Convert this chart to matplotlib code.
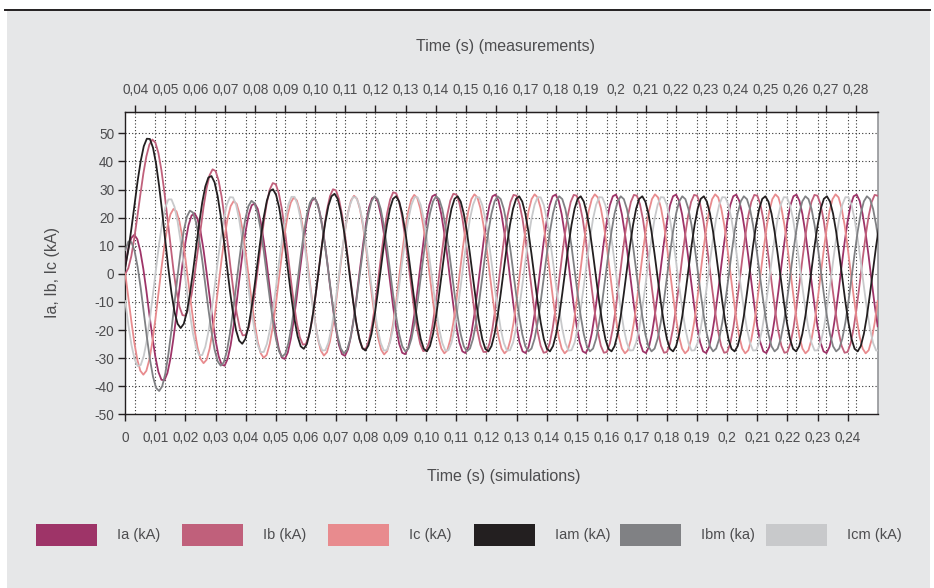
import numpy as np
import matplotlib
matplotlib.use('Agg')
import matplotlib.pyplot as plt
from matplotlib.patches import Rectangle
from matplotlib.lines import Line2D

plt.rcParams['font.family'] = ['Liberation Sans', 'DejaVu Sans']

# sample steps (s) - simulations on bottom time axis, measurements re-sampled
dt_sim = 0.001
dt_meas = 0.0010225

# simulated currents (kA), one value per ms
ia = [2.7, 9.0, 12.8, 13.9, 12.3, 8.0, 1.7, -6.0, -14.5, -22.5,
      -29.6, -34.9, -37.7, -37.9, -35.3, -30.2, -23.0, -14.5, -5.3, 3.5,
      11.3, 17.3, 20.7, 21.6, 19.6, 15.1, 8.5, 0.5, -8.1, -16.4,
      -23.7, -29.3, -32.3, -32.7, -30.3, -25.4, -18.4, -10.1, -1.0, 7.6,
      15.3, 21.1, 24.4, 25.1, 23.1, 18.4, 11.7, 3.6, -5.2, -13.6,
      -21.0, -26.6, -29.8, -30.3, -28.0, -23.1, -16.3, -8.0, 1.0, 9.5,
      17.1, 22.9, 26.1, 26.8, 24.6, 19.9, 13.1, 5.0, -3.9, -12.3,
      -19.8, -25.4, -28.6, -29.2, -26.9, -22.1, -15.3, -7.0, 1.9, 10.4,
      18.0, 23.7, 26.9, 27.5, 25.4, 20.6, 13.8, 5.6, -3.2, -11.7,
      -19.2, -24.9, -28.1, -28.6, -26.4, -21.6, -14.8, -6.6, 2.3, 10.8,
      18.7, 24.4, 27.6, 28.2, 26.0, 21.2, 14.4, 6.2, -2.7, -11.2, -18.7, -24.4, -27.6, -28.2, -26.0, -21.2, -14.4, -6.2, 2.7, 11.2,
      18.7, 24.4, 27.6, 28.2, 26.0, 21.2, 14.4, 6.2, -2.7, -11.2, -18.7, -24.4, -27.6, -28.2, -26.0, -21.2, -14.4, -6.2, 2.7, 11.2,
      18.7, 24.4, 27.6, 28.2, 26.0, 21.2, 14.4, 6.2, -2.7, -11.2, -18.7, -24.4, -27.6, -28.2, -26.0, -21.2, -14.4, -6.2, 2.7, 11.2,
      18.7, 24.4, 27.6, 28.2, 26.0, 21.2, 14.4, 6.2, -2.7, -11.2, -18.7, -24.4, -27.6, -28.2, -26.0, -21.2, -14.4, -6.2, 2.7, 11.2,
      18.7, 24.4, 27.6, 28.2, 26.0, 21.2, 14.4, 6.2, -2.7, -11.2, -18.7, -24.4, -27.6, -28.2, -26.0, -21.2, -14.4, -6.2, 2.7, 11.2,
      18.7, 24.4, 27.6, 28.2, 26.0, 21.2, 14.4, 6.2, -2.7, -11.2, -18.7, -24.4, -27.6, -28.2, -26.0, -21.2, -14.4, -6.2, 2.7, 11.2,
      18.7, 24.4, 27.6, 28.2, 26.0, 21.2, 14.4, 6.2, -2.7, -11.2, -18.7, -24.4, -27.6, -28.2, -26.0, -21.2, -14.4, -6.2, 2.7, 11.2,
      18.7, 24.4, 27.6, 28.2, 26.0, 21.2, 14.4, 6.2, -2.7, -11.2, -18.7]

ib = [0.0, 2.0, 6.3, 12.8, 20.3, 28.2, 35.7, 41.8, 46.0, 47.8,
      46.7, 43.0, 36.9, 29.0, 19.8, 10.3, 1.4, -6.1, -11.7, -14.7,
      -14.9, -12.4, -7.5, -0.6, 7.5, 15.9, 23.8, 30.4, 35.1, 37.2,
      36.6, 33.2, 27.5, 19.9, 11.1, 1.9, -6.6, -13.9, -19.2, -21.9,
      -21.8, -19.1, -13.9, -6.8, 1.6, 10.2, 18.3, 25.2, 30.0, 32.3,
      31.9, 28.7, 23.2, 15.7, 7.1, -2.0, -10.4, -17.5, -22.6, -25.2,
      -25.0, -22.1, -16.8, -9.6, -1.2, 7.6, 15.8, 22.7, 27.6, 30.1,
      29.7, 26.6, 21.1, 13.8, 5.2, -3.7, -12.1, -19.2, -24.2, -26.8,
      -26.5, -23.6, -18.2, -11.0, -2.5, 6.4, 14.6, 21.6, 26.5, 29.0,
      28.7, 25.6, 20.2, 12.9, 4.3, -4.6, -12.9, -19.9, -25.0, -27.5,
      -27.2, -24.2, -18.8, -11.6, -3.1, 5.8, 14.1, 21.1, 26.1, 28.5,
      28.2, 25.2, 19.8, 12.5, 4.0, -5.0, -13.3, -20.3, -25.3, -27.8,
      -27.8, -24.8, -19.4, -12.1, -3.6, 5.3, 13.6, 20.6, 25.6, 28.1, 27.8, 24.8, 19.4, 12.1, 3.6, -5.3, -13.6, -20.6, -25.6, -28.1,
      -27.8, -24.8, -19.4, -12.1, -3.6, 5.3, 13.6, 20.6, 25.6, 28.1, 27.8, 24.8, 19.4, 12.1, 3.6, -5.3, -13.6, -20.6, -25.6, -28.1,
      -27.8, -24.8, -19.4, -12.1, -3.6, 5.3, 13.6, 20.6, 25.6, 28.1, 27.8, 24.8, 19.4, 12.1, 3.6, -5.3, -13.6, -20.6, -25.6, -28.1,
      -27.8, -24.8, -19.4, -12.1, -3.6, 5.3, 13.6, 20.6, 25.6, 28.1, 27.8, 24.8, 19.4, 12.1, 3.6, -5.3, -13.6, -20.6, -25.6, -28.1,
      -27.8, -24.8, -19.4, -12.1, -3.6, 5.3, 13.6, 20.6, 25.6, 28.1, 27.8, 24.8, 19.4, 12.1, 3.6, -5.3, -13.6, -20.6, -25.6, -28.1,
      -27.8, -24.8, -19.4, -12.1, -3.6, 5.3, 13.6, 20.6, 25.6, 28.1, 27.8, 24.8, 19.4, 12.1, 3.6, -5.3, -13.6, -20.6, -25.6, -28.1,
      -27.8, -24.8, -19.4, -12.1, -3.6, 5.3, 13.6, 20.6, 25.6, 28.1, 27.8]

ic = [0.0, -8.3, -16.8, -24.5, -30.6, -34.5, -35.9, -34.5, -30.5, -24.2,
      -16.1, -7.2, 1.9, 10.1, 16.8, 21.2, 23.1, 22.2, 18.6, 12.8,
      5.2, -3.4, -12.0, -19.9, -26.2, -30.3, -31.8, -30.6, -26.7, -20.5,
      -12.6, -3.8, 5.1, 13.2, 19.8, 24.1, 25.9, 24.9, 21.2, 15.3,
      7.5, -1.1, -9.8, -17.7, -24.2, -28.3, -29.9, -28.8, -24.9, -18.9,
      -11.0, -2.2, 6.6, 14.7, 21.2, 25.4, 27.2, 26.1, 22.4, 16.4,
      8.6, 0.0, -8.8, -16.7, -23.2, -27.4, -29.1, -27.9, -24.1, -18.1,
      -10.2, -1.5, 7.3, 15.3, 21.8, 26.1, 27.8, 26.7, 22.9, 16.9,
      9.2, 0.5, -8.3, -16.3, -22.8, -27.0, -28.7, -27.5, -23.7, -17.7,
      -9.9, -1.2, 7.6, 15.6, 22.1, 26.4, 28.1, 27.0, 23.2, 17.2,
      9.6, 0.9, -7.9, -15.9, -22.4, -26.6, -28.3, -27.2, -23.4, -17.4, -9.6, -0.9, 7.9, 15.9, 22.4, 26.6, 28.3, 27.2, 23.4, 17.4,
      9.6, 0.9, -7.9, -15.9, -22.4, -26.6, -28.3, -27.2, -23.4, -17.4, -9.6, -0.9, 7.9, 15.9, 22.4, 26.6, 28.3, 27.2, 23.4, 17.4,
      9.6, 0.9, -7.9, -15.9, -22.4, -26.6, -28.3, -27.2, -23.4, -17.4, -9.6, -0.9, 7.9, 15.9, 22.4, 26.6, 28.3, 27.2, 23.4, 17.4,
      9.6, 0.9, -7.9, -15.9, -22.4, -26.6, -28.3, -27.2, -23.4, -17.4, -9.6, -0.9, 7.9, 15.9, 22.4, 26.6, 28.3, 27.2, 23.4, 17.4,
      9.6, 0.9, -7.9, -15.9, -22.4, -26.6, -28.3, -27.2, -23.4, -17.4, -9.6, -0.9, 7.9, 15.9, 22.4, 26.6, 28.3, 27.2, 23.4, 17.4,
      9.6, 0.9, -7.9, -15.9, -22.4, -26.6, -28.3, -27.2, -23.4, -17.4, -9.6, -0.9, 7.9, 15.9, 22.4, 26.6, 28.3, 27.2, 23.4, 17.4,
      9.6, 0.9, -7.9, -15.9, -22.4, -26.6, -28.3, -27.2, -23.4, -17.4, -9.6, -0.9, 7.9, 15.9, 22.4, 26.6, 28.3, 27.2, 23.4, 17.4,
      9.6, 0.9, -7.9, -15.9, -22.4, -26.6, -28.3, -27.2, -23.4, -17.4, -9.6]

# measured currents (kA), sampled every dt_meas
iam = [2.5, 8.6, 16.2, 24.7, 33.0, 40.1, 45.4, 48.1, 48.0, 44.9,
       39.2, 31.2, 21.9, 11.7, 1.9, -6.8, -13.6, -17.8, -19.3, -17.8,
       -13.6, -7.2, 0.8, 9.4, 17.9, 25.4, 31.1, 34.3, 34.8, 32.6,
       27.7, 20.7, 12.1, 3.0, -6.0, -14.0, -20.1, -23.8, -24.9, -23.2,
       -18.9, -12.4, -4.4, 4.3, 12.7, 20.2, 26.0, 29.5, 30.1, 28.1,
       23.6, 16.9, 8.8, 0.0, -8.6, -16.3, -22.2, -25.8, -26.7, -25.0,
       -20.6, -14.1, -6.1, 2.5, 11.0, 18.4, 24.2, 27.6, 28.5, 26.7,
       22.2, 15.7, 7.7, -1.1, -9.5, -17.1, -22.9, -26.4, -27.3, -25.5,
       -21.4, -15.0, -7.0, 1.5, 10.0, 17.4, 23.2, 26.7, 27.6, 25.7, 21.4, 15.0, 7.0, -1.5, -10.0, -17.4, -23.2, -26.7, -27.6, -25.7,
       -21.4, -15.0, -7.0, 1.5, 10.0, 17.4, 23.2, 26.7, 27.6, 25.7, 21.4, 15.0, 7.0, -1.5, -10.0, -17.4, -23.2, -26.7, -27.6, -25.7,
       -21.4, -15.0, -7.0, 1.5, 10.0, 17.4, 23.2, 26.7, 27.6, 25.7, 21.4, 15.0, 7.0, -1.5, -10.0, -17.4, -23.2, -26.7, -27.6, -25.7,
       -21.4, -15.0, -7.0, 1.5, 10.0, 17.4, 23.2, 26.7, 27.6, 25.7, 21.4, 15.0, 7.0, -1.5, -10.0, -17.4, -23.2, -26.7, -27.6, -25.7,
       -21.4, -15.0, -7.0, 1.5, 10.0, 17.4, 23.2, 26.7, 27.6, 25.7, 21.4, 15.0, 7.0, -1.5, -10.0, -17.4, -23.2, -26.7, -27.6, -25.7,
       -21.4, -15.0, -7.0, 1.5, 10.0, 17.4, 23.2, 26.7, 27.6, 25.7, 21.4, 15.0, 7.0, -1.5, -10.0, -17.4, -23.2, -26.7, -27.6, -25.7,
       -21.4, -15.0, -7.0, 1.5, 10.0, 17.4, 23.2, 26.7, 27.6, 25.7, 21.4, 15.0, 7.0, -1.5, -10.0, -17.4, -23.2, -26.7, -27.6, -25.7,
       -21.4, -15.0, -7.0, 1.5, 10.0, 17.4, 23.2, 26.7, 27.6, 25.7, 21.4, 15.0, 7.0, -1.5, -10.0, -17.4, -23.2, -26.7, -27.6, -25.7,
       -21.4, -15.0, -7.0, 1.5, 10.0, 17.4]

ibm = [8.5, 11.5, 11.3, 8.2, 2.5, -5.0, -13.7, -22.4, -30.4, -36.6,
       -40.6, -41.7, -40.0, -35.5, -28.6, -20.0, -10.4, -0.6, 8.2, 15.3,
       20.3, 22.5, 21.8, 18.3, 12.4, 4.8, -3.8, -12.5, -20.5, -26.9,
       -31.1, -32.7, -31.5, -27.6, -21.3, -13.3, -4.4, 4.6, 12.9, 19.5,
       24.1, 26.0, 25.1, 21.6, 15.7, 8.1, -0.4, -9.1, -17.0, -23.4,
       -27.7, -29.5, -28.4, -24.7, -18.7, -11.1, -2.4, 6.3, 14.4, 20.9,
       25.3, 27.1, 26.2, 22.6, 16.8, 9.3, 0.8, -7.9, -15.8, -22.2,
       -26.5, -28.3, -27.2, -23.7, -17.8, -10.3, -1.8, 7.0, 14.9, 21.3,
       25.8, 27.6, 26.6, 23.1, 17.3, 9.8, 1.3, -7.2, -15.1, -21.5, -25.8, -27.6, -26.6, -23.1, -17.3, -9.8, -1.3, 7.2, 15.1, 21.5,
       25.8, 27.6, 26.6, 23.1, 17.3, 9.8, 1.3, -7.2, -15.1, -21.5, -25.8, -27.6, -26.6, -23.1, -17.3, -9.8, -1.3, 7.2, 15.1, 21.5,
       25.8, 27.6, 26.6, 23.1, 17.3, 9.8, 1.3, -7.2, -15.1, -21.5, -25.8, -27.6, -26.6, -23.1, -17.3, -9.8, -1.3, 7.2, 15.1, 21.5,
       25.8, 27.6, 26.6, 23.1, 17.3, 9.8, 1.3, -7.2, -15.1, -21.5, -25.8, -27.6, -26.6, -23.1, -17.3, -9.8, -1.3, 7.2, 15.1, 21.5,
       25.8, 27.6, 26.6, 23.1, 17.3, 9.8, 1.3, -7.2, -15.1, -21.5, -25.8, -27.6, -26.6, -23.1, -17.3, -9.8, -1.3, 7.2, 15.1, 21.5,
       25.8, 27.6, 26.6, 23.1, 17.3, 9.8, 1.3, -7.2, -15.1, -21.5, -25.8, -27.6, -26.6, -23.1, -17.3, -9.8, -1.3, 7.2, 15.1, 21.5,
       25.8, 27.6, 26.6, 23.1, 17.3, 9.8, 1.3, -7.2, -15.1, -21.5, -25.8, -27.6, -26.6, -23.1, -17.3, -9.8, -1.3, 7.2, 15.1, 21.5,
       25.8, 27.6, 26.6, 23.1, 17.3, 9.8, 1.3, -7.2, -15.1, -21.5, -25.8, -27.6, -26.6, -23.1, -17.3, -9.8, -1.3, 7.2, 15.1, 21.5,
       25.8, 27.6, 26.6, 23.1, 17.3, 9.8]

icm = [-9.7, -18.2, -25.3, -30.3, -32.8, -32.5, -29.2, -23.6, -16.0, -7.1,
       2.1, 10.8, 18.3, 23.6, 26.5, 26.5, 23.8, 18.6, 11.4, 3.0,
       -5.9, -14.2, -21.3, -26.3, -29.0, -28.9, -26.0, -20.7, -13.4, -5.0,
       3.9, 12.3, 19.4, 24.6, 27.3, 27.2, 24.6, 19.4, 12.2, 3.9,
       -4.8, -13.1, -20.1, -25.2, -27.9, -27.8, -25.0, -19.9, -12.8, -4.5,
       4.4, 12.6, 19.7, 24.7, 27.4, 27.4, 24.6, 19.5, 12.4, 4.2,
       -4.4, -12.6, -19.6, -24.6, -27.3, -27.2, -24.5, -19.4, -12.4, -4.2, 4.4, 12.6, 19.6, 24.6, 27.3, 27.2, 24.5, 19.4, 12.4, 4.2,
       -4.4, -12.6, -19.6, -24.6, -27.3, -27.2, -24.5, -19.4, -12.4, -4.2, 4.4, 12.6, 19.6, 24.6, 27.3, 27.2, 24.5, 19.4, 12.4, 4.2,
       -4.4, -12.6, -19.6, -24.6, -27.3, -27.2, -24.5, -19.4, -12.4, -4.2, 4.4, 12.6, 19.6, 24.6, 27.3, 27.2, 24.5, 19.4, 12.4, 4.2,
       -4.4, -12.6, -19.6, -24.6, -27.3, -27.2, -24.5, -19.4, -12.4, -4.2, 4.4, 12.6, 19.6, 24.6, 27.3, 27.2, 24.5, 19.4, 12.4, 4.2,
       -4.4, -12.6, -19.6, -24.6, -27.3, -27.2, -24.5, -19.4, -12.4, -4.2, 4.4, 12.6, 19.6, 24.6, 27.3, 27.2, 24.5, 19.4, 12.4, 4.2,
       -4.4, -12.6, -19.6, -24.6, -27.3, -27.2, -24.5, -19.4, -12.4, -4.2, 4.4, 12.6, 19.6, 24.6, 27.3, 27.2, 24.5, 19.4, 12.4, 4.2,
       -4.4, -12.6, -19.6, -24.6, -27.3, -27.2, -24.5, -19.4, -12.4, -4.2, 4.4, 12.6, 19.6, 24.6, 27.3, 27.2, 24.5, 19.4, 12.4, 4.2,
       -4.4, -12.6, -19.6, -24.6, -27.3, -27.2, -24.5, -19.4, -12.4, -4.2, 4.4, 12.6, 19.6, 24.6, 27.3, 27.2, 24.5, 19.4, 12.4, 4.2,
       -4.4, -12.6, -19.6, -24.6, -27.3, -27.2, -24.5, -19.4, -12.4, -4.2, 4.4, 12.6, 19.6, 24.6, 27.3, 27.2, 24.5, 19.4, 12.4, 4.2,
       -4.4, -12.6, -19.6, -24.6, -27.3, -27.2]

series_names = ['Ia (kA)', 'Ib (kA)', 'Ic (kA)', 'Iam (kA)', 'Ibm (ka)', 'Icm (kA)']
series_colors = ['#9e3468', '#c0607b', '#e88b8e', '#231f20', '#808184', '#c8c9cb']

bottom_ticks = [0.00, 0.01, 0.02, 0.03, 0.04, 0.05, 0.06, 0.07, 0.08, 0.09, 0.10, 0.11, 0.12,
                0.13, 0.14, 0.15, 0.16, 0.17, 0.18, 0.19, 0.20, 0.21, 0.22, 0.23, 0.24]
bottom_labels = ['0', '0,01', '0,02', '0,03', '0,04', '0,05', '0,06', '0,07', '0,08', '0,09', '0,10', '0,11', '0,12',
                 '0,13', '0,14', '0,15', '0,16', '0,17', '0,18', '0,19', '0,2', '0,21', '0,22', '0,23', '0,24']
top_ticks = [0.04, 0.05, 0.06, 0.07, 0.08, 0.09, 0.10, 0.11, 0.12, 0.13, 0.14, 0.15, 0.16,
             0.17, 0.18, 0.19, 0.20, 0.21, 0.22, 0.23, 0.24, 0.25, 0.26, 0.27, 0.28]
top_labels = ['0,04', '0,05', '0,06', '0,07', '0,08', '0,09', '0,10', '0,11', '0,12', '0,13', '0,14', '0,15', '0,16',
              '0,17', '0,18', '0,19', '0,2', '0,21', '0,22', '0,23', '0,24', '0,25', '0,26', '0,27', '0,28']
y_ticks = [-50, -40, -30, -20, -10, 0, 10, 20, 30, 40, 50]

# measurement clock vs simulation clock
meas_scale = 1.002
meas_offset = 0.0367


def to_meas(t):
    return meas_scale * np.asarray(t) + meas_offset


def to_sim(t):
    return (np.asarray(t) - meas_offset) / meas_scale


text_col = '#4d4d4f'
ink = '#231f20'

fig = plt.figure(figsize=(9.34, 5.88), dpi=100)
fig.patch.set_facecolor('white')
fig.add_artist(Rectangle((7 / 934, 0), 923 / 934, 577 / 588, transform=fig.transFigure,
                         facecolor='#e6e7e8', edgecolor='none', zorder=0))
fig.add_artist(Line2D([5 / 934, 930 / 934], [1 - 10 / 588, 1 - 10 / 588], color=ink, lw=1.4))

ax = fig.add_axes([125.3 / 934, 1 - 414.3 / 588, 752.4 / 934, 302 / 588])
ax.set_facecolor('white')

# data
sims = [ia, ib, ic]
meas = [iam, ibm, icm]
for vals, col in zip(sims, series_colors[:3]):
    t = np.arange(len(vals)) * dt_sim
    ax.plot(t, vals, color=col, lw=1.3, zorder=3)
for vals, col in zip(meas[::-1], series_colors[3:][::-1]):
    t = np.arange(len(vals)) * dt_meas
    ax.plot(t, vals, color=col, lw=1.3, zorder=3)

ax.set_xlim(0, 0.25)
ax.set_ylim(-50, 57.5)

# dotted grid for both time scales
grid_kw = dict(color='#333333', lw=0.8, linestyle=(0, (1, 2)), zorder=1)
for yv in y_ticks[1:]:
    ax.axhline(yv, **grid_kw)
for xv in bottom_ticks[1:]:
    ax.axvline(xv, **grid_kw)
for xv in top_ticks:
    ax.axvline(float(to_sim(xv)), **grid_kw)

ax.set_xticks(bottom_ticks)
ax.set_xticklabels(bottom_labels)
ax.set_yticks(y_ticks)
ax.set_yticklabels([str(v) for v in y_ticks])
ax.tick_params(axis='both', direction='out', length=5, width=1.0, color=ink,
               labelsize=9.8, labelcolor=text_col)
ax.tick_params(axis='x', pad=7)
ax.tick_params(axis='y', pad=3)

for side in ['left', 'bottom', 'top']:
    ax.spines[side].set_color(ink)
    ax.spines[side].set_linewidth(1.0)
ax.spines['right'].set_color('#939598')
ax.spines['right'].set_linewidth(1.2)

secax = ax.secondary_xaxis('top', functions=(to_meas, to_sim))
secax.set_xticks(top_ticks)
secax.set_xticklabels(top_labels)
secax.tick_params(direction='out', length=5, width=1.0, color=ink,
                  labelsize=9.8, labelcolor=text_col, pad=6)
secax.spines['top'].set_color(ink)

fig.text(505 / 934, 1 - 47 / 588, 'Time (s) (measurements)', ha='center', va='center',
         fontsize=11.5, color=text_col)
fig.text(504 / 934, 1 - 477 / 588, 'Time (s) (simulations)', ha='center', va='center',
         fontsize=11.5, color=text_col)
fig.text(52 / 934, 1 - 273 / 588, 'Ia, Ib, Ic (kA)', ha='center', va='center',
         rotation=90, fontsize=11.5, color=text_col)

# legend row
for i, (name, col) in enumerate(zip(series_names, series_colors)):
    x0 = 36 + 146 * i
    fig.add_artist(Rectangle((x0 / 934, 1 - 546 / 588), 61 / 934, 22 / 588,
                             transform=fig.transFigure, facecolor=col, edgecolor='none'))
    fig.text((x0 + 81) / 934, 1 - 535 / 588, name, ha='left', va='center',
             fontsize=10.5, color=text_col)

fig.savefig('out.png', dpi=100, facecolor=fig.get_facecolor())
